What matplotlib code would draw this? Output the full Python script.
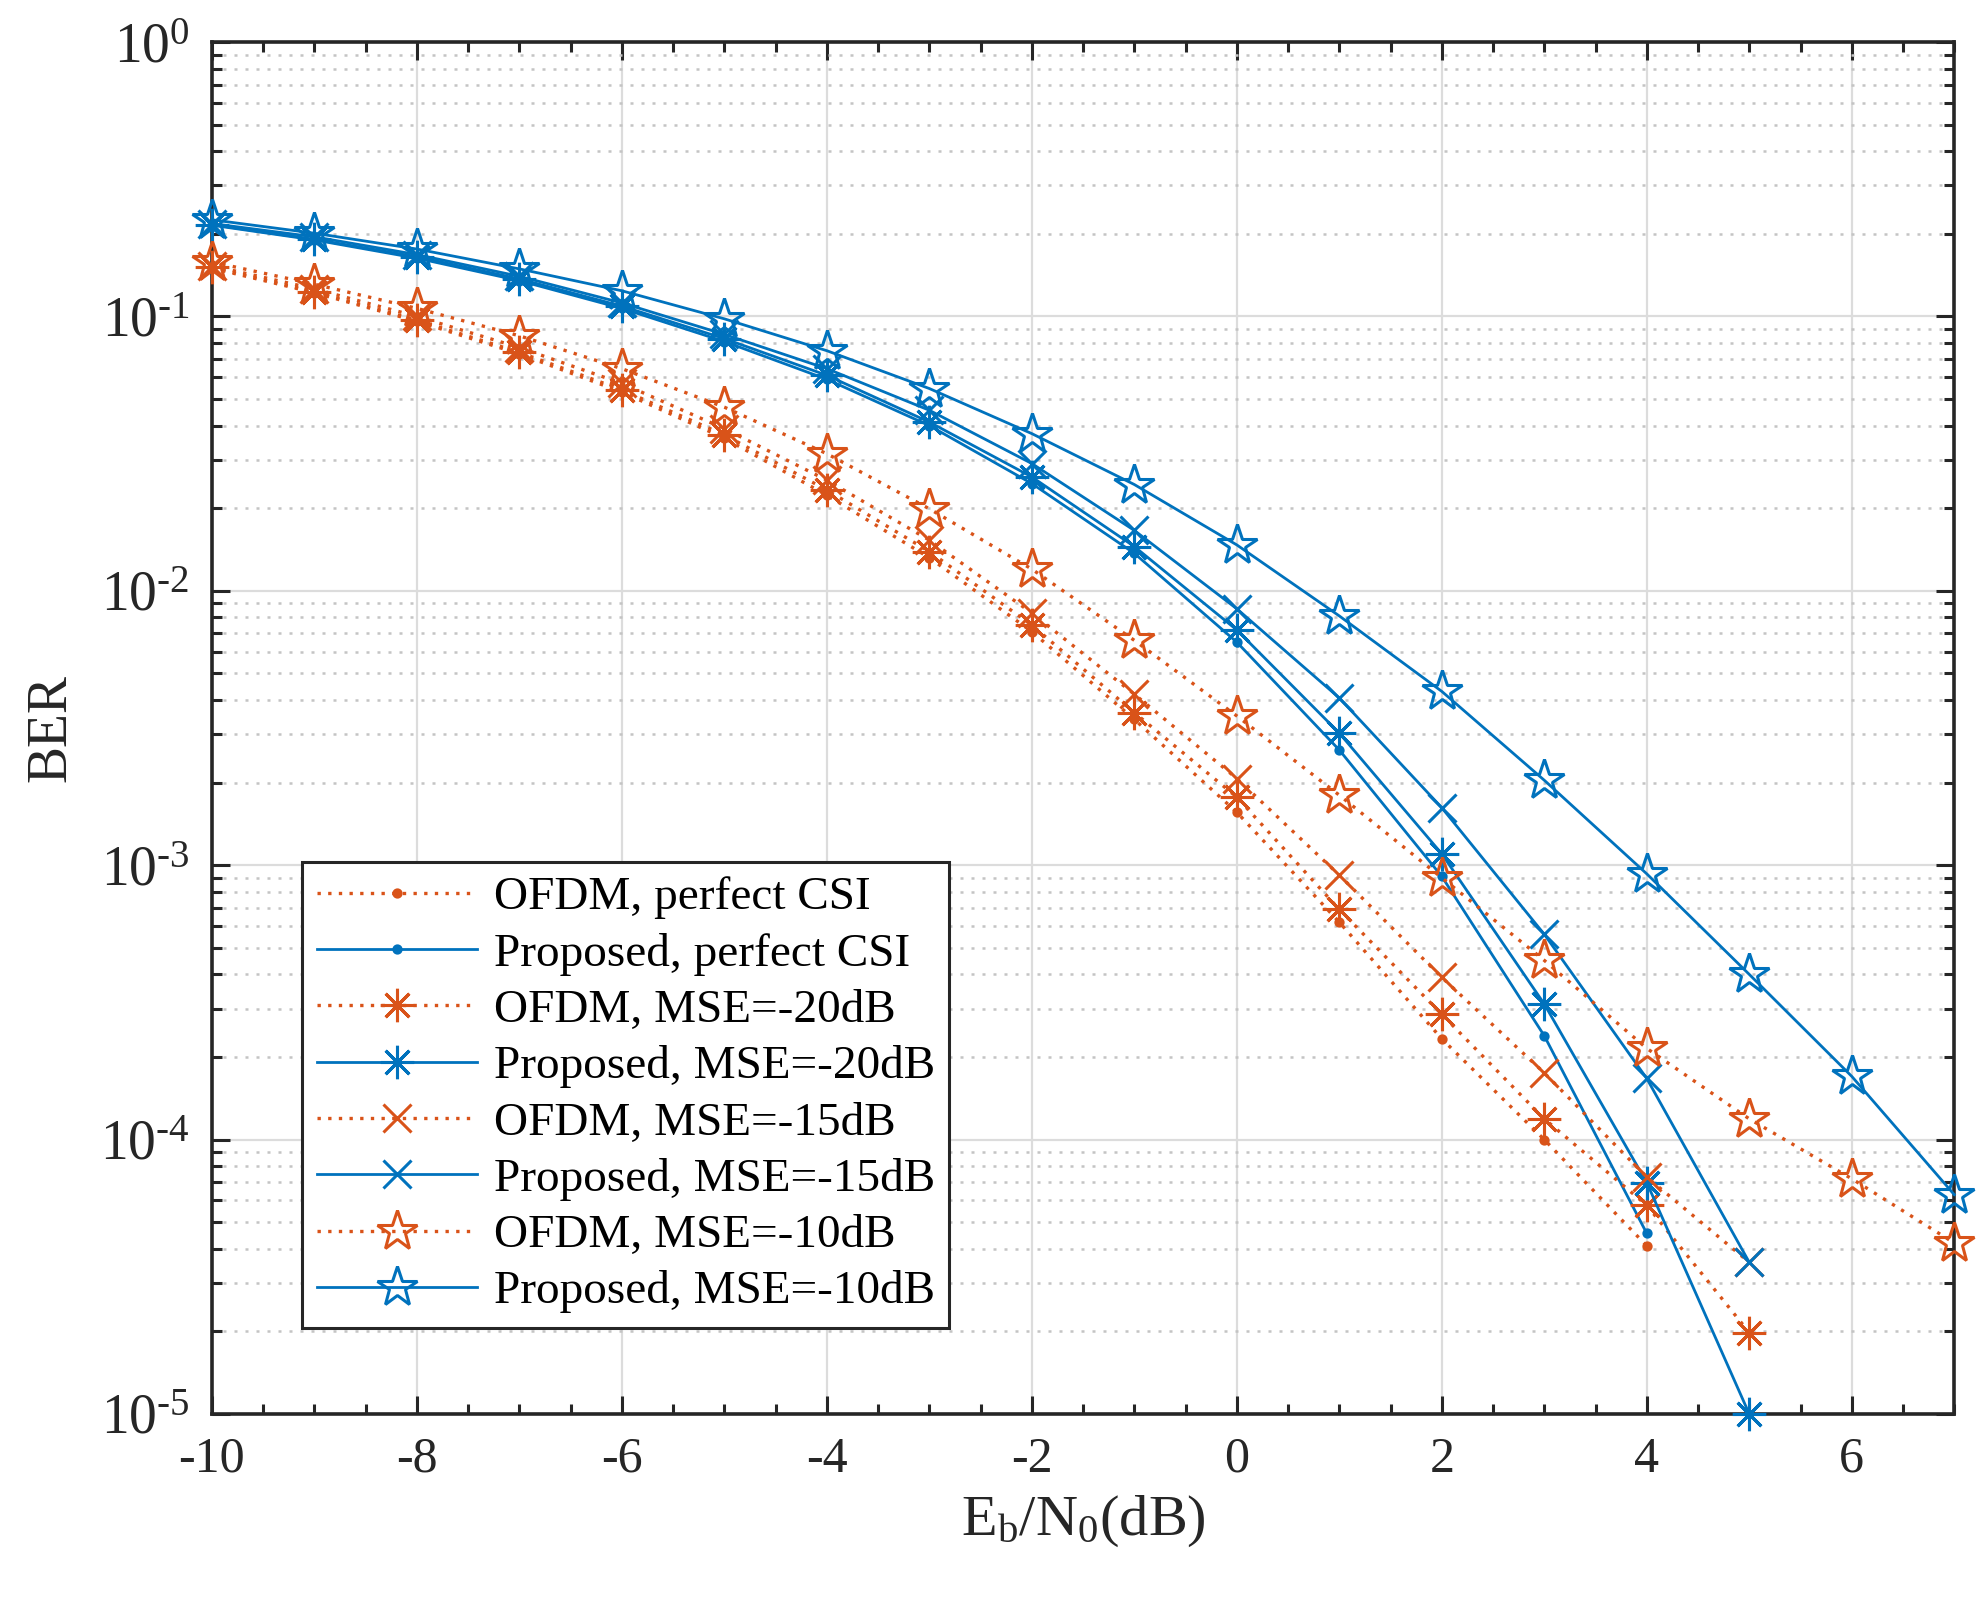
import numpy as np
import matplotlib
matplotlib.use("Agg")
import matplotlib.pyplot as plt
from matplotlib.ticker import FixedLocator, NullFormatter, LogLocator

# ---------------- data ----------------
ebn0 = [-10, -9, -8, -7, -6, -5, -4, -3, -2, -1, 0, 1, 2, 3, 4, 5, 6, 7]

ofdm_perfect = [0.150, 0.122, 0.096, 0.073, 0.053, 0.036, 0.0223, 0.0132, 0.0071,
                0.0034, 0.00156, 6.2e-4, 2.33e-4, 1.0e-4, 4.1e-5]
prop_perfect = [0.215, 0.190, 0.163, 0.135, 0.107, 0.081, 0.059, 0.040, 0.0246,
                0.0137, 0.0065, 0.00263, 9.1e-4, 2.39e-4, 4.55e-5]
ofdm_mse20 = [0.151, 0.123, 0.097, 0.074, 0.054, 0.037, 0.0233, 0.0139, 0.0075,
              0.0036, 0.00177, 6.9e-4, 2.86e-4, 1.19e-4, 5.76e-5, 1.98e-5]
prop_mse20 = [0.216, 0.191, 0.165, 0.137, 0.109, 0.083, 0.061, 0.0412, 0.026,
              0.0145, 0.0072, 0.00303, 0.0011, 3.12e-4, 6.97e-5, 1.0e-5]
ofdm_mse15 = [0.153, 0.126, 0.100, 0.077, 0.057, 0.039, 0.0253, 0.0153, 0.0083,
              0.0042, 0.00207, 9.2e-4, 3.9e-4, 1.75e-4, 7.3e-5, 3.57e-5]
prop_mse15 = [0.218, 0.195, 0.168, 0.140, 0.112, 0.086, 0.0645, 0.0455, 0.0291,
              0.0166, 0.0086, 0.00407, 0.00162, 5.6e-4, 1.67e-4, 3.57e-5]
ofdm_mse10 = [0.158, 0.131, 0.107, 0.085, 0.0645, 0.0467, 0.0316, 0.0199, 0.012,
              0.0066, 0.0035, 0.0018, 9.0e-4, 4.5e-4, 2.15e-4, 1.19e-4, 7.2e-5, 4.2e-5]
prop_mse10 = [0.225, 0.201, 0.176, 0.149, 0.124, 0.098, 0.075, 0.0546, 0.0374,
              0.0244, 0.0147, 0.0081, 0.0043, 0.00204, 9.3e-4, 4.0e-4, 1.7e-4, 6.3e-5]

labels = ["OFDM, perfect CSI", "Proposed, perfect CSI",
          "OFDM, MSE=-20dB", "Proposed, MSE=-20dB",
          "OFDM, MSE=-15dB", "Proposed, MSE=-15dB",
          "OFDM, MSE=-10dB", "Proposed, MSE=-10dB"]

xticks = [-10, -8, -6, -4, -2, 0, 2, 4, 6]
yticks = [1e-5, 1e-4, 1e-3, 1e-2, 1e-1, 1e0]
ytick_labels = [r"$10^{\text{-}5}$", r"$10^{\text{-}4}$", r"$10^{\text{-}3}$",
                r"$10^{\text{-}2}$", r"$10^{\text{-}1}$", r"$10^{0}$"]

# ---------------- style ----------------
plt.rcParams['font.family'] = ['Liberation Serif', 'DejaVu Serif']
plt.rcParams['mathtext.fontset'] = 'custom'
plt.rcParams['mathtext.rm'] = 'Liberation Serif'
plt.rcParams['mathtext.it'] = 'Liberation Serif'
plt.rcParams['mathtext.bf'] = 'Liberation Serif:bold'
plt.rcParams['axes.unicode_minus'] = False

BLUE = '#0072BD'
ORANGE = '#D95319'

fig = plt.figure(figsize=(9.9, 8.08), dpi=200)
ax = fig.add_axes([0.107, 0.125, 0.880, 0.849])

series = [
    (ofdm_perfect, ORANGE, ':', 'o', 2.6, 'full'),
    (prop_perfect, BLUE, '-', 'o', 2.6, 'full'),
    (ofdm_mse20, ORANGE, ':', (8, 2, 0), 12, 'full'),
    (prop_mse20, BLUE, '-', (8, 2, 0), 12, 'full'),
    (ofdm_mse15, ORANGE, ':', 'x', 10, 'full'),
    (prop_mse15, BLUE, '-', 'x', 10, 'full'),
    (ofdm_mse10, ORANGE, ':', '*', 15, 'none'),
    (prop_mse10, BLUE, '-', '*', 15, 'none'),
]

for (vals, col, ls, mk, ms, fill), lab in zip(series, labels):
    xs = ebn0[:len(vals)]
    lsty = (0, (1.0, 2.2)) if ls == ':' else '-'
    kw = dict(color=col, linestyle=lsty, linewidth=1.2 if ls == ':' else 1.0,
              marker=mk, markersize=ms,
              markeredgewidth=1.1, markeredgecolor=col, label=lab, clip_on=False, zorder=3)
    if fill == 'none':
        kw['markerfacecolor'] = 'none'
    else:
        kw['markerfacecolor'] = col
    ax.plot(xs, vals, **kw)

ax.set_yscale('log')
ax.set_xlim(-10, 7)
ax.set_ylim(1e-5, 1)

ax.set_xticks(xticks)
ax.set_xticklabels([str(t) for t in xticks])
ax.xaxis.set_minor_locator(FixedLocator(np.arange(-10, 7.01, 0.5)))
ax.set_yticks(yticks)
ax.set_yticklabels(ytick_labels)
ax.yaxis.set_minor_locator(LogLocator(base=10, subs=np.arange(2, 10), numticks=20))
ax.yaxis.set_minor_formatter(NullFormatter())

ax.tick_params(which='both', direction='in', top=True, right=True, colors='#262626',
               width=1.1, labelcolor='#262626')
ax.tick_params(axis='x', which='major', labelsize=18)
ax.tick_params(axis='y', which='major', labelsize=20)
ax.tick_params(which='major', length=6.5, pad=8)
ax.tick_params(which='minor', length=3.5)
for s in ax.spines.values():
    s.set_linewidth(1.3)
    s.set_color('#262626')

ax.grid(which='major', axis='both', color='#dcdcdc', linestyle='-', linewidth=0.8, zorder=0)
ax.grid(which='minor', axis='y', color='#c4c4c4', linestyle=(0, (1.2, 3.2)), linewidth=0.9, zorder=0)
ax.set_axisbelow(True)

ax.set_xlabel(r"$\mathrm{E_b/N_0}$(dB)", fontsize=21, color='#262626', labelpad=4)
ax.set_ylabel("BER", fontsize=20, color='#262626', labelpad=8)

leg = ax.legend(loc='lower left', bbox_to_anchor=(0.052, 0.063), fontsize=17,
                frameon=True, fancybox=False, shadow=False, framealpha=1,
                edgecolor='#262626', handlelength=3.4, handletextpad=0.35,
                labelspacing=0.28, borderpad=0.3, borderaxespad=0)
leg.get_frame().set_linewidth(1.1)

fig.savefig("out.png", dpi=200)
